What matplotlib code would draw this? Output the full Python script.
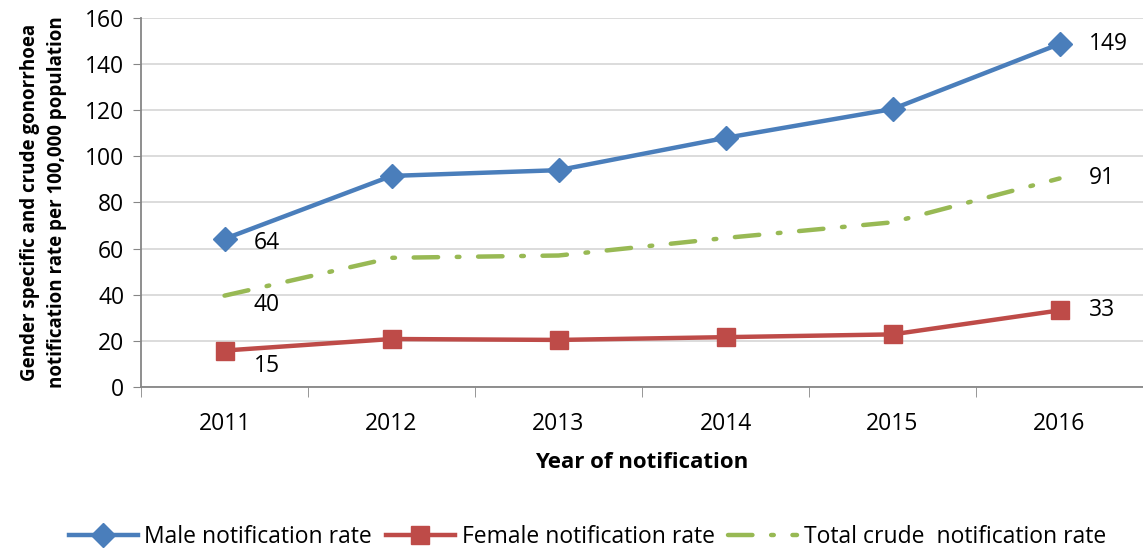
import matplotlib.pyplot as plt

years = ["2011", "2012", "2013", "2014", "2015", "2016"]
male = [64.2, 91.5, 94.0, 108.0, 120.5, 148.7]
female = [15.8, 20.8, 20.4, 21.6, 22.8, 33.2]
total = [39.6, 56.0, 57.0, 64.6, 71.4, 90.4]

male_labels = {0: "64", 5: "149"}
female_labels = {0: "15", 5: "33"}
total_labels = {0: "40", 5: "91"}

plt.rcParams["font.family"] = ["Open Sans", "DejaVu Sans"]

fig = plt.figure(figsize=(11.43, 5.5), dpi=100)
ax = fig.add_axes([0.1234, 0.2964, 0.8766, 0.671])

x = list(range(len(years)))
blue, red, green = "#4a7ebb", "#be4b48", "#98b954"

ax.plot(x, male, color=blue, linewidth=3.2, marker="D", markersize=12,
        label="Male notification rate", zorder=4)
ax.plot(x, female, color=red, linewidth=3.2, marker="s", markersize=13,
        label="Female notification rate", zorder=4)
tot_line, = ax.plot(x, total, color=green, linewidth=3.2,
                    label="Total crude  notification rate", zorder=3)
tot_line.set_dashes([5.5, 4.2, 0.6, 4.2])
tot_line.set_dash_capstyle("round")

lab_fs = 16.5
for i, t in male_labels.items():
    dy = -3 if i == 0 else 0
    ax.annotate(t, (x[i], male[i]), xytext=(21, dy), textcoords="offset points",
                ha="left", va="center", fontsize=lab_fs)
for i, t in female_labels.items():
    dy = -11 if i == 0 else 0
    ax.annotate(t, (x[i], female[i]), xytext=(21, dy), textcoords="offset points",
                ha="left", va="center", fontsize=lab_fs)
for i, t in total_labels.items():
    dy = -7 if i == 0 else 0
    ax.annotate(t, (x[i], total[i]), xytext=(21, dy), textcoords="offset points",
                ha="left", va="center", fontsize=lab_fs)

ax.set_xlim(-0.5, len(years) - 0.5)
ax.set_ylim(0, 160)
ax.set_yticks(range(0, 161, 20))
ax.set_xticks(x)
ax.set_xticklabels(years)
ax.set_xticks([i - 0.5 for i in range(len(years) + 1)], minor=True)
ax.tick_params(axis="x", which="major", length=0, pad=18, labelsize=16.5)
ax.tick_params(axis="x", which="minor", length=7, color="#868686", direction="out")
ax.tick_params(axis="y", length=6, color="#868686", labelsize=16.5, pad=6)

ax.grid(axis="y", color="#d9d9d9", linewidth=1.3)
ax.set_axisbelow(True)
for s in ["top", "right"]:
    ax.spines[s].set_visible(False)
for s in ["left", "bottom"]:
    ax.spines[s].set_color("#868686")
    ax.spines[s].set_linewidth(1.3)

ax.set_xlabel("Year of notification", fontsize=16, fontweight="bold")
ax.xaxis.set_label_coords(0.5, -0.175)
ax.set_ylabel("Gender specific and crude gonorrhoea\nnotification rate per 100,000 population",
              fontsize=13.5, fontweight="bold", linespacing=1.45)
ax.yaxis.set_label_coords(-0.074, 0.5)

fig.legend(loc="lower center", bbox_to_anchor=(0.514, -0.035), ncol=3,
           frameon=False, fontsize=16.5, handlelength=3.0, columnspacing=0.6,
           handletextpad=0.3)

fig.savefig("out.png", dpi=100)
